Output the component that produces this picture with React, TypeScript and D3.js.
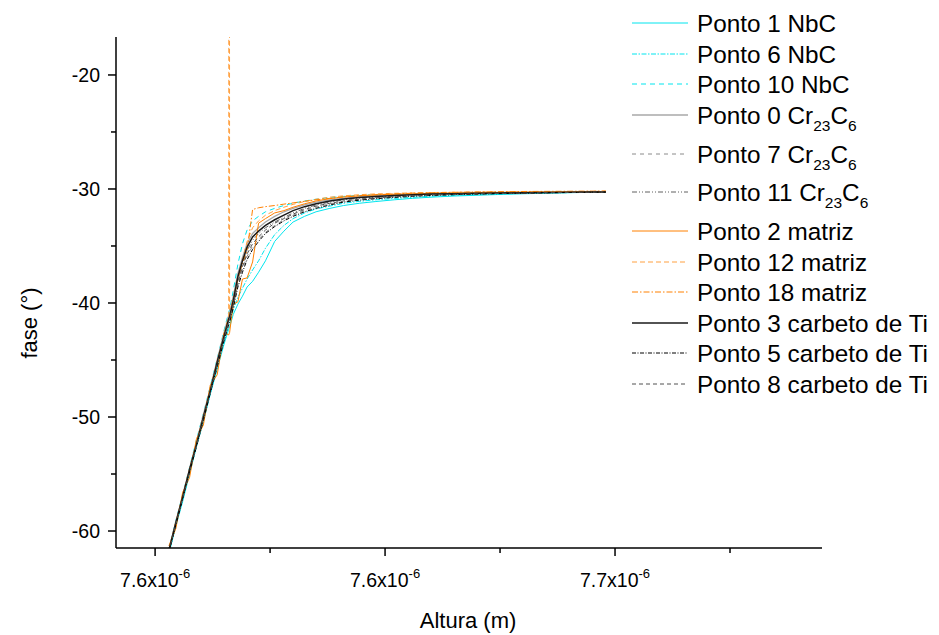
import React from "react";
import * as d3 from "d3";

// Altura (units of 1e-6 m)
const heights = [
  7.603, 7.6045, 7.606, 7.6075, 7.609, 7.6105, 7.612, 7.6135, 7.615, 7.616,
  7.6161, 7.6162, 7.617, 7.618, 7.619, 7.62, 7.6212, 7.6225, 7.624, 7.626, 7.628,
  7.63, 7.6325, 7.635, 7.638, 7.641, 7.6445, 7.648, 7.652, 7.656, 7.66,
  7.665, 7.67, 7.675, 7.68, 7.685, 7.69, 7.695, 7.698,
];

const ponto1 = [-62.0,-59.6,-57.4,-55.0,-52.6,-50.4,-48.0,-45.8,-43.6,-42.3,-42.2,-42.1,-41.0,-40.1,-39.4,-38.6,-38.1,-37.3,-36.3,-34.6,-33.7,-32.9,-32.4,-32.0,-31.7,-31.45,-31.25,-31.1,-30.95,-30.82,-30.72,-30.62,-30.55,-30.48,-30.42,-30.37,-30.33,-30.29,-30.27];
const ponto6 = [-61.9,-59.5,-57.2,-54.9,-52.5,-50.2,-47.9,-45.6,-43.4,-42.0,-41.9,-41.8,-40.6,-39.5,-38.7,-37.9,-37.1,-36.3,-35.2,-34.0,-33.2,-32.6,-32.1,-31.75,-31.5,-31.25,-31.08,-30.95,-30.83,-30.73,-30.64,-30.56,-30.5,-30.44,-30.39,-30.35,-30.31,-30.28,-30.26];
const ponto10 = [-61.6,-59.1,-56.8,-54.4,-52.0,-49.7,-47.3,-44.9,-42.4,-40.8,-40.7,-40.6,-38.9,-36.6,-34.8,-33.6,-32.8,-32.4,-32.0,-31.7,-31.45,-31.25,-31.05,-30.9,-30.75,-30.65,-30.57,-30.51,-30.46,-30.42,-30.38,-30.35,-30.32,-30.3,-30.29,-30.28,-30.27,-30.26,-30.25];
const ponto0 = [-61.6,-59.2,-56.9,-54.5,-52.2,-49.8,-47.5,-45.0,-42.6,-41.1,-41.0,-40.9,-39.4,-37.4,-36.0,-34.8,-33.9,-33.4,-32.9,-32.4,-32.0,-31.7,-31.4,-31.15,-30.95,-30.8,-30.68,-30.59,-30.52,-30.46,-30.42,-30.38,-30.35,-30.33,-30.31,-30.29,-30.28,-30.26,-30.25];
const ponto7 = [-61.8,-59.5,-57.1,-54.8,-52.4,-50.2,-47.8,-45.5,-43.2,-41.7,-41.6,-41.5,-40.3,-38.4,-37.0,-35.9,-35.0,-34.4,-33.8,-33.2,-32.7,-32.3,-31.9,-31.6,-31.3,-31.1,-30.93,-30.8,-30.7,-30.61,-30.54,-30.48,-30.43,-30.39,-30.36,-30.33,-30.3,-30.28,-30.27];
const ponto11 = [-61.7,-59.4,-57.0,-54.7,-52.3,-50.1,-47.7,-45.3,-43.0,-41.5,-41.4,-41.3,-39.9,-38.0,-36.6,-35.4,-34.5,-33.9,-33.4,-32.9,-32.5,-32.1,-31.7,-31.4,-31.15,-30.95,-30.82,-30.72,-30.62,-30.54,-30.48,-30.43,-30.4,-30.37,-30.34,-30.32,-30.3,-30.28,-30.26];
const ponto2 = [-61.3,-59.8,-56.6,-55.3,-51.9,-50.7,-47.2,-46.3,-42.6,-42.8,-42.7,-42.6,-40.1,-39.9,-37.9,-37.8,-36.4,-33.0,-32.6,-32.1,-31.9,-31.6,-31.3,-31.05,-30.85,-30.7,-30.6,-30.52,-30.46,-30.42,-30.38,-30.35,-30.32,-30.3,-30.28,-30.27,-30.26,-30.25,-30.24];
const ponto12 = [-61.6,-59.2,-56.9,-54.5,-52.2,-49.9,-47.5,-45.1,-42.7,-41.2,100,-40.6,-40.0,-38.0,-36.3,-34.6,-33.4,-32.8,-32.3,-31.9,-31.6,-31.35,-31.1,-30.9,-30.72,-30.6,-30.5,-30.43,-30.38,-30.34,-30.31,-30.29,-30.27,-30.25,-30.24,-30.23,-30.22,-30.21,-30.2];
const ponto18 = [-61.7,-59.3,-57.0,-54.7,-52.3,-50.0,-47.6,-45.2,-42.8,-41.3,-41.2,-41.1,-39.6,-37.8,-36.5,-35.4,-31.8,-31.65,-31.55,-31.45,-31.33,-31.22,-31.08,-30.95,-30.82,-30.7,-30.58,-30.5,-30.43,-30.37,-30.33,-30.29,-30.26,-30.24,-30.22,-30.21,-30.2,-30.19,-30.18];
const ponto3 = [-61.7,-59.3,-57.0,-54.6,-52.4,-50.0,-47.7,-45.2,-42.9,-41.4,-41.3,-41.2,-39.8,-37.7,-36.3,-35.1,-34.2,-33.7,-33.2,-32.7,-32.3,-31.9,-31.55,-31.3,-31.05,-30.88,-30.75,-30.66,-30.57,-30.5,-30.45,-30.41,-30.38,-30.35,-30.33,-30.31,-30.29,-30.27,-30.26];
const ponto5 = [-61.9,-59.5,-57.2,-54.8,-52.6,-50.3,-47.9,-45.6,-43.3,-41.9,-41.8,-41.7,-40.4,-38.6,-37.3,-36.2,-35.3,-34.6,-33.9,-33.3,-32.8,-32.4,-32.0,-31.7,-31.4,-31.15,-30.98,-30.85,-30.74,-30.64,-30.57,-30.5,-30.45,-30.41,-30.37,-30.34,-30.31,-30.28,-30.27];
const ponto8 = [-61.8,-59.4,-57.1,-54.8,-52.5,-50.1,-47.8,-45.4,-43.1,-41.6,-41.5,-41.4,-40.1,-38.2,-36.8,-35.7,-34.8,-34.2,-33.6,-33.0,-32.6,-32.2,-31.8,-31.5,-31.25,-31.05,-30.9,-30.78,-30.68,-30.6,-30.53,-30.47,-30.42,-30.39,-30.36,-30.33,-30.3,-30.28,-30.26];

const seriesNames = [
  ["Ponto 1 NbC", ""],
  ["Ponto 6 NbC", ""],
  ["Ponto 10 NbC", ""],
  ["Ponto 0 Cr", "cr"],
  ["Ponto 7 Cr", "cr"],
  ["Ponto 11 Cr", "cr"],
  ["Ponto 2 matriz", ""],
  ["Ponto 12 matriz", ""],
  ["Ponto 18 matriz", ""],
  ["Ponto 3 carbeto de Ti", ""],
  ["Ponto 5 carbeto de Ti", ""],
  ["Ponto 8 carbeto de Ti", ""],
];
const seriesValues = [ponto1, ponto6, ponto10, ponto0, ponto7, ponto11, ponto2, ponto12, ponto18, ponto3, ponto5, ponto8];
const seriesColors = ["#00e5ee", "#00e5ee", "#00e5ee", "#a8a8a8", "#8a8a8a", "#606060", "#ff8000", "#ffa040", "#ff8000", "#1a1a1a", "#000000", "#505050"];
const seriesDash = ["", "5,1.5,1.5,1.5", "5,4", "", "4,4", "5,2,1,2,1,2", "", "5,3", "6,2,1.5,2", "", "4,1.5,1,1.5", "4,3"];
const seriesWidth = [1, 1, 1, 1.3, 1, 1, 1, 1, 1, 1.5, 1, 1];

const yTicks = [-60, -50, -40, -30, -20];
const yMinorTicks = [-55, -45, -35, -25];
const xTicks = [7.6, 7.65, 7.7];
const xTickLabels = ["7.6x10", "7.6x10", "7.7x10"];
const xMinorTicks = [7.625, 7.675, 7.725];
const legendRows = [23, 54, 84, 115, 154, 192, 231, 262, 292, 323, 353, 384];

export default function App() {
  const left = 116, right = 822, top = 37, bottom = 548;
  const x = d3.scaleLinear().domain([7.5915, 7.745]).range([left, right]);
  const y = d3.scaleLinear().domain([-61.49, -16.67]).range([bottom, top]);
  const line = d3
    .line<number>()
    .x((_, i) => x(heights[i]))
    .y((d) => y(d));
  const font = "'Liberation Sans', Arial, sans-serif";

  return (
    <svg width={939} height={635} style={{ position: "absolute", left: 0, top: 0, background: "#fff" }} fontFamily={font}>
      <defs>
        <clipPath id="plotclip">
          <rect x={left} y={top} width={right - left} height={bottom - top} />
        </clipPath>
      </defs>
      <rect x={0} y={0} width={939} height={635} fill="#fff" />
      <g clipPath="url(#plotclip)">
        {seriesValues.map((vals, i) => (
          <path
            key={i}
            d={line(vals) || ""}
            fill="none"
            stroke={seriesColors[i]}
            strokeWidth={seriesWidth[i]}
            strokeDasharray={seriesDash[i] || undefined}
          />
        ))}
      </g>
      {/* axes */}
      <line x1={left} y1={top} x2={left} y2={bottom} stroke="#000" strokeWidth={1.5} />
      <line x1={left} y1={bottom} x2={right} y2={bottom} stroke="#000" strokeWidth={1.5} />
      {yTicks.map((t) => (
        <g key={t}>
          <line x1={left - 8} x2={left} y1={y(t)} y2={y(t)} stroke="#000" strokeWidth={1.5} />
          <text x={left - 16} y={y(t) + 7} fontSize={19.5} textAnchor="end">{t}</text>
        </g>
      ))}
      {yMinorTicks.map((t) => (
        <line key={t} x1={left - 5} x2={left} y1={y(t)} y2={y(t)} stroke="#000" strokeWidth={1.5} />
      ))}
      {xTicks.map((t, i) => (
        <g key={t}>
          <line x1={x(t)} x2={x(t)} y1={bottom} y2={bottom + 8} stroke="#000" strokeWidth={1.5} />
          <text x={x(t)} y={bottom + 39} fontSize={19.5} textAnchor="middle">
            {xTickLabels[i]}
            <tspan fontSize={13} dy={-9}>-6</tspan>
          </text>
        </g>
      ))}
      {xMinorTicks.map((t) => (
        <line key={t} x1={x(t)} x2={x(t)} y1={bottom} y2={bottom + 5} stroke="#000" strokeWidth={1.5} />
      ))}
      <text x={468} y={628} fontSize={22} textAnchor="middle">Altura (m)</text>
      <text transform="translate(37,323) rotate(-90)" fontSize={22} textAnchor="middle">fase (°)</text>
      {/* legend */}
      {seriesNames.map(([name, kind], i) => {
        const ly = legendRows[i];
        return (
          <g key={i}>
            <line
              x1={632}
              x2={688}
              y1={ly}
              y2={ly}
              stroke={seriesColors[i]}
              strokeWidth={seriesWidth[i]}
              strokeDasharray={seriesDash[i] || undefined}
            />
            <text x={697} y={ly + 8.5} fontSize={24.3}>
              {name}
              {kind === "cr" ? (
                <>
                  <tspan fontSize={15.5} dy={7}>23</tspan>
                  <tspan fontSize={24.3} dy={-7}>C</tspan>
                  <tspan fontSize={15.5} dy={7}>6</tspan>
                </>
              ) : null}
            </text>
          </g>
        );
      })}
    </svg>
  );
}
